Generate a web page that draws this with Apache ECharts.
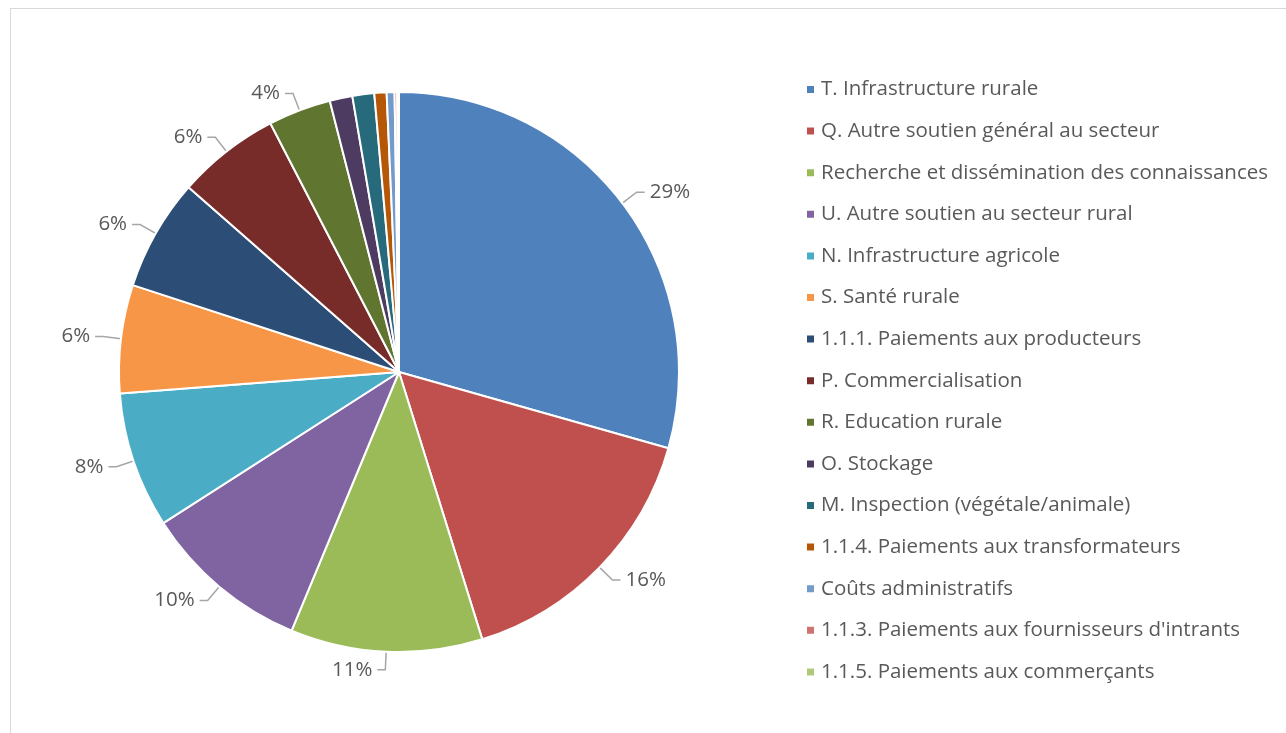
<!DOCTYPE html>
<html>
<head>
<meta charset="utf-8">
<script src="https://cdn.jsdelivr.net/npm/echarts@6/dist/echarts.min.js"></script>
<style>
html,body{margin:0;padding:0;background:#fff;}
#frame{position:absolute;left:10px;top:8px;width:1290px;height:740px;border:1px solid #d9d9d9;box-sizing:border-box;}
#chart{position:absolute;left:0;top:0;width:1286px;height:733px;}
</style>
</head>
<body>
<div id="frame"></div>
<div id="chart"></div>
<script>
const categories = [
  "T. Infrastructure rurale",
  "Q. Autre soutien général au secteur",
  "Recherche et dissémination des connaissances",
  "U. Autre soutien au secteur rural",
  "N. Infrastructure agricole",
  "S. Santé rurale",
  "1.1.1. Paiements aux producteurs",
  "P. Commercialisation",
  "R. Education rurale",
  "O. Stockage",
  "M. Inspection (végétale/animale)",
  "1.1.4. Paiements aux transformateurs",
  "Coûts administratifs",
  "1.1.3. Paiements aux fournisseurs d'intrants",
  "1.1.5. Paiements aux commerçants"
];
const values = [29.2, 15.7, 11.0, 9.6, 7.8, 6.2, 6.4, 5.9, 3.6, 1.3, 1.25, 0.7, 0.45, 0.15, 0.1];
const colors = ["#4F81BD","#C0504D","#9BBB59","#8064A2","#4BACC6","#F79646","#2C4D75","#772C2A","#5F7530","#4D3B62","#276A7C","#B65708","#729ACA","#CD7371","#AFC97A"];
const labelThreshold = 2;

const chart = echarts.init(document.getElementById('chart'));
const total = values.reduce((a,b)=>a+b,0);
const data = categories.map((c,i)=>({
  name:c, value:values[i],
  label:{show: values[i] >= labelThreshold},
  labelLine:{show: values[i] >= labelThreshold}
}));
chart.setOption({
  animation:false,
  color: colors,
  legend:{
    orient:'vertical', left:800, top:74,
    icon:'rect', itemWidth:9, itemHeight:9, itemGap:20.6,
    textStyle:{fontFamily:'Open Sans', fontSize:20.5, color:'#595959', lineHeight:20, padding:[0,0,0,1]},
    data: categories
  },
  series:[{
    type:'pie',
    center:[399,372],
    radius:[0,280],
    startAngle:90,
    clockwise:true,
    avoidLabelOverlap:false,
    itemStyle:{borderColor:'#fff', borderWidth:2},
    label:{
      position:'outside',
      fontFamily:'Open Sans', fontSize:20.5, color:'#595959',
      formatter: p => Math.round(p.value/total*100) + '%'
    },
    labelLine:{length:18, length2:8, lineStyle:{color:'#a6a6a6', width:1.5}},
    emphasis:{disabled:true},
    data: data
  }]
});
</script>
</body>
</html>
